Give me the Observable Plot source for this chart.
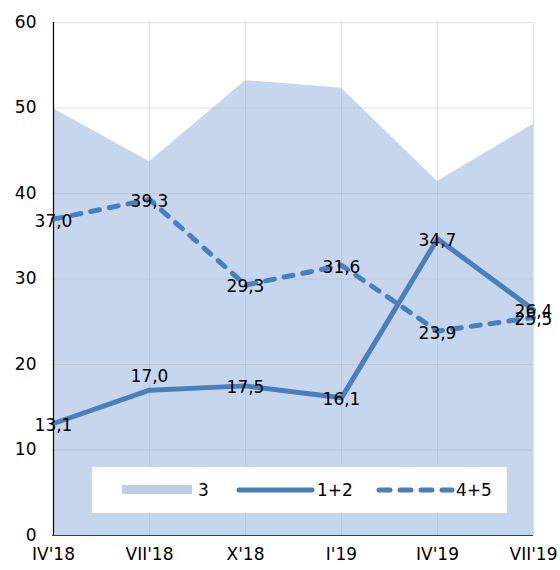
<!DOCTYPE html>
<html>
<head>
<meta charset="utf-8">
<script src="https://cdn.jsdelivr.net/npm/d3@7"></script>
<script src="https://cdn.jsdelivr.net/npm/@observablehq/plot@0.6"></script>
<style>
  html, body { margin: 0; padding: 0; background: #fff; }
  #wrap { position: relative; width: 560px; height: 570px; font-family: "DejaVu Sans", Verdana, sans-serif; }
  #legend { position: absolute; left: 92px; top: 467px; width: 415px; height: 46px; background: #fff; }
</style>
</head>
<body>
<div id="wrap"></div>
<script>
const periods = ["IV'18", "VII'18", "X'18", "I'19", "IV'19", "VII'19"];
const series3 = [49.9, 43.7, 53.2, 52.3, 41.4, 48.1];
const series12 = [13.1, 17.0, 17.5, 16.1, 34.7, 26.4];
const series45 = [37.0, 39.3, 29.3, 31.6, 23.9, 25.5];
const yTicks = [0, 10, 20, 30, 40, 50, 60];
const seriesNames = ["3", "1+2", "4+5"];

const areaColor = "#c6d6ec";
const lineColor = "#4a7fbd";
const fmt = v => d3.format(".1f")(v).replace(".", ",");

const rows3 = periods.map((p, i) => ({p, v: series3[i]}));
const rows12 = periods.map((p, i) => ({p, v: series12[i], i}));
const rows45 = periods.map((p, i) => ({p, v: series45[i], i}));

const chart = Plot.plot({
  width: 560,
  height: 570,
  marginLeft: 52,
  marginRight: 27,
  marginTop: 22,
  marginBottom: 35,
  style: {fontFamily: "DejaVu Sans, Verdana, sans-serif", fontSize: "17px", color: "#000", background: "#fff"},
  x: {type: "point", domain: periods, padding: 0, label: null},
  y: {domain: [0, 60], ticks: yTicks, label: null},
  marks: [
    Plot.areaY(rows3, {x: "p", y: "v", fill: areaColor}),
    Plot.ruleY(yTicks.slice(1), {stroke: "#b8b8b8", strokeOpacity: 0.45, strokeWidth: 1}),
    Plot.ruleX(periods.slice(1), {stroke: "#b8b8b8", strokeOpacity: 0.45, strokeWidth: 1}),
    Plot.ruleY([0], {stroke: "#404040", strokeWidth: 1.2}),
    Plot.ruleX([periods[0]], {stroke: "#000", strokeWidth: 1.2}),
    Plot.lineY(rows12, {x: "p", y: "v", stroke: lineColor, strokeWidth: 5, strokeLinecap: "round", strokeLinejoin: "round"}),
    Plot.lineY(rows45, {x: "p", y: "v", stroke: lineColor, strokeWidth: 5, strokeDasharray: "9 10", strokeLinecap: "round", strokeLinejoin: "round"}),
    Plot.text(rows12.filter(d => d.i !== 1), {x: "p", y: "v", text: d => fmt(d.v), fill: "#000", fontSize: 17, dy: 2}),
    Plot.text(rows12.filter(d => d.i === 1), {x: "p", y: "v", text: d => fmt(d.v), fill: "#000", fontSize: 17, dy: -14}),
    Plot.text(rows45, {x: "p", y: "v", text: d => fmt(d.v), fill: "#000", fontSize: 17, dy: 2}),
    Plot.axisY({ticks: yTicks, tickSize: 0, tickPadding: 16, fontSize: 17, label: null}),
    Plot.axisX({tickSize: 0, tickPadding: 12, fontSize: 17, label: null})
  ]
});

const wrap = document.getElementById("wrap");
wrap.appendChild(chart);

// Legend (inside the plot area, as in the original)
const legend = document.createElement("div");
legend.id = "legend";
legend.innerHTML = `
<svg width="415" height="46" style="display:block;font-family:'DejaVu Sans',Verdana,sans-serif;font-size:17px">
  <rect x="30" y="18" width="70" height="9" fill="#bccde6"></rect>
  <text x="106" y="23" dy="0.35em" fill="#000">${seriesNames[0]}</text>
  <line x1="147" y1="23" x2="220" y2="23" stroke="${lineColor}" stroke-width="5" stroke-linecap="round"></line>
  <text x="225" y="23" dy="0.35em" fill="#000">${seriesNames[1]}</text>
  <line x1="287" y1="23" x2="360" y2="23" stroke="${lineColor}" stroke-width="5" stroke-linecap="round" stroke-dasharray="11 10"></line>
  <text x="364" y="23" dy="0.35em" fill="#000">${seriesNames[2]}</text>
</svg>`;
wrap.appendChild(legend);
</script>
</body>
</html>
